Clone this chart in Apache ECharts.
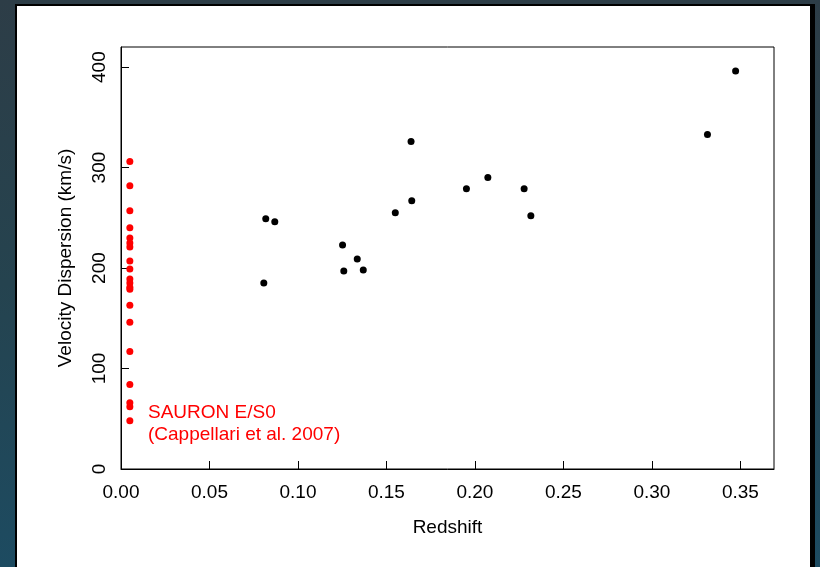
<!DOCTYPE html>
<html>
<head>
<meta charset="utf-8">
<script src="https://cdn.jsdelivr.net/npm/echarts@6/dist/echarts.min.js"></script>
<style>
  html, body { margin: 0; padding: 0; width: 820px; height: 567px; overflow: hidden; }
  body { background: linear-gradient(to bottom, #2d3d47 0%, #25434f 50%, #1d4b61 100%); position: relative; }
  #panel {
    position: absolute; left: 15px; top: 4px; width: 793px; height: 600px;
    background: #fff; border-top: 2px solid #000; border-left: 2px solid #000; border-right: 5px solid #000;
  }
  #chart { position: absolute; left: 0; top: 0; width: 820px; height: 567px; }
</style>
</head>
<body>
<div id="panel"></div>
<div id="chart"></div>
<script>
// SAURON E/S0 sample (red)
const sauronZ = [0.005, 0.005, 0.005, 0.005, 0.005, 0.005, 0.005, 0.005, 0.005, 0.005,
                 0.005, 0.005, 0.005, 0.005, 0.005, 0.005, 0.005, 0.005, 0.005, 0.005];
const sauronSigma = [306, 282, 257, 240, 230, 225, 221, 207, 199, 189,
                     185, 181, 179, 163, 146, 117, 84, 66, 62, 48];

// lens / host galaxies (black)
const hostZ = [0.0807, 0.0818, 0.0869, 0.1252, 0.1259, 0.1335, 0.1369, 0.155,
               0.1639, 0.1643, 0.1952, 0.2073, 0.2278, 0.2316, 0.3314, 0.3473];
const hostSigma = [185, 249, 246, 223, 197, 209, 198, 255,
                   326, 267, 279, 290, 279, 252, 333, 396];

const xTicks = [0, 0.05, 0.10, 0.15, 0.20, 0.25, 0.30, 0.35];
const yTicks = [0, 100, 200, 300, 400];

const FONT = "'Liberation Sans', Arial, Helvetica, sans-serif";

const chart = echarts.init(document.getElementById('chart'), null, { renderer: 'canvas' });

const pairs = (xs, ys) => ys.map((y, i) => [xs[i], y]);

const option = {
  animation: false,
  backgroundColor: 'transparent',
  grid: {
    left: 121,
    top: 47,
    right: 46,
    bottom: 98,
    show: true,
    borderColor: '#000',
    borderWidth: 1,
    backgroundColor: 'transparent'
  },
  xAxis: {
    type: 'value',
    min: 0,
    max: 0.369,
    name: 'Redshift',
    nameLocation: 'middle',
    nameGap: 49,
    nameTextStyle: { color: '#000', fontSize: 19, fontFamily: FONT },
    axisLine: { show: true, lineStyle: { color: '#000', width: 1 } },
    axisTick: { show: true, inside: true, length: 8, lineStyle: { color: '#000' }, customValues: xTicks },
    axisLabel: {
      color: '#000', fontSize: 19, fontFamily: FONT, margin: 14,
      customValues: xTicks,
      formatter: v => v.toFixed(2)
    },
    splitLine: { show: false }
  },
  yAxis: {
    type: 'value',
    min: 0,
    max: 420,
    name: 'Velocity Dispersion (km/s)',
    nameLocation: 'middle',
    nameGap: 46,
    nameRotate: 90,
    nameTextStyle: { color: '#000', fontSize: 19, fontFamily: FONT },
    axisLine: { show: true, lineStyle: { color: '#000', width: 1 } },
    axisTick: { show: true, inside: true, length: 8, lineStyle: { color: '#000' }, customValues: yTicks },
    axisLabel: {
      color: '#000', fontSize: 19, fontFamily: FONT, margin: 12, rotate: 90,
      customValues: yTicks
    },
    splitLine: { show: false }
  },
  graphic: [{
    type: 'text',
    left: 148,
    top: 402,
    style: {
      text: 'SAURON E/S0\n(Cappellari et al. 2007)',
      fill: '#ff0000',
      font: '19px ' + FONT,
      lineHeight: 22
    }
  }],
  series: [
    {
      name: 'SAURON',
      type: 'scatter',
      symbol: 'circle',
      symbolSize: 7,
      itemStyle: { color: '#ff0000', opacity: 1 },
      data: pairs(sauronZ, sauronSigma)
    },
    {
      name: 'Lens',
      type: 'scatter',
      symbol: 'circle',
      symbolSize: 7,
      itemStyle: { color: '#000', opacity: 1 },
      data: pairs(hostZ, hostSigma)
    }
  ]
};

chart.setOption(option);
</script>
</body>
</html>
